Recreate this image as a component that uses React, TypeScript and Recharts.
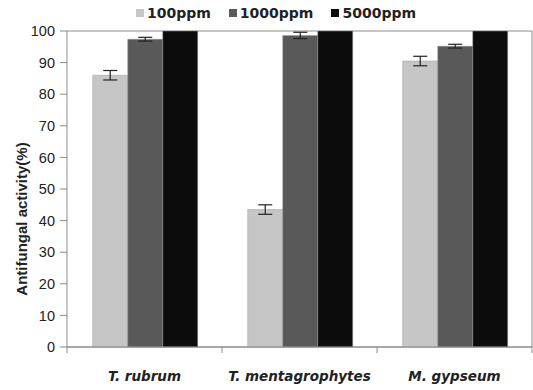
import React from 'react';
import { BarChart, Bar, XAxis, YAxis, CartesianGrid, Legend, ErrorBar, Label } from 'recharts';

const species = ['T. rubrum', 'T. mentagrophytes', 'M. gypseum'];
const ppm100 = [86, 43.5, 90.5];
const ppm1000 = [97.4, 98.6, 95.2];
const ppm5000 = [100, 100, 100];
const err100 = [1.5, 1.5, 1.5];
const err1000 = [0.6, 1.0, 0.6];
const yTicks = [0, 10, 20, 30, 40, 50, 60, 70, 80, 90, 100];

const SERIES = [
  { key: 'p100', name: '100ppm', color: '#c6c6c6', err: 'e100' },
  { key: 'p1000', name: '1000ppm', color: '#595959', err: 'e1000' },
  { key: 'p5000', name: '5000ppm', color: '#0c0c0c', err: null },
];

const data = species.map((name, i) => ({
  name,
  p100: ppm100[i],
  p1000: ppm1000[i],
  p5000: ppm5000[i],
  e100: err100[i],
  e1000: err1000[i],
}));

const GRID = '#8c8c8c';

const LegendBox = () => (
  <div style={{ display: 'flex', justifyContent: 'center', alignItems: 'center', paddingLeft: 37, fontFamily: 'DejaVu Sans', fontWeight: 'bold', fontSize: 14, color: '#222' }}>
    {SERIES.map((s) => (
      <div key={s.key} style={{ display: 'flex', alignItems: 'center', marginRight: 18 }}>
        <span style={{ width: 8, height: 8, background: s.color, marginRight: 3, display: 'inline-block' }} />
        <span>{s.name}</span>
      </div>
    ))}
  </div>
);

const SpeciesTick = (props: any) => {
  const { x, y, payload, index, width, visibleTicksCount } = props;
  const band = width / visibleTicksCount;
  const last = index === visibleTicksCount - 1;
  return (
    <g>
      <line x1={x - band / 2} x2={x - band / 2} y1={y} y2={y + 6} stroke={GRID} />
      {last && <line x1={x + band / 2} x2={x + band / 2} y1={y} y2={y + 6} stroke={GRID} />}
      <text x={x} y={y + 34} textAnchor="middle" fontFamily="DejaVu Sans" fontWeight="bold" fontStyle="italic" fontSize={13.5} fill="#222">
        {payload.value}
      </text>
    </g>
  );
};

const YLabel = (props: any) => {
  const { viewBox } = props;
  const cy = viewBox.y + viewBox.height / 2 + 30;
  return (
    <text x={21} y={cy} transform={`rotate(-90, 21, ${cy})`} textAnchor="middle" dominantBaseline="central" fontFamily="Liberation Sans" fontWeight="bold" fontSize={15} fill="#222">
      Antifungal activity(%)
    </text>
  );
};

export default function App() {
  return (
    <div style={{ position: 'absolute', left: 0, top: 0, background: '#fff' }}>
      <BarChart width={533} height={390} data={data} margin={{ top: 5, right: 0, left: 0, bottom: 0 }} barCategoryGap="16.6%" barGap={0}>
        <CartesianGrid vertical={false} stroke={GRID} />
        <Legend verticalAlign="top" height={26} content={<LegendBox />} />
        <XAxis dataKey="name" height={43} tickSize={0} tickMargin={0} tickLine={false} axisLine={{ stroke: GRID }} tick={<SpeciesTick />} interval={0} />
        <YAxis
          yAxisId="left"
          width={67}
          domain={[0, 100]}
          ticks={yTicks}
          interval={0}
          tickSize={7}
          tickMargin={5}
          tickLine={{ stroke: GRID }}
          axisLine={{ stroke: GRID }}
          tick={{ fontFamily: 'Liberation Sans', fontSize: 14.5, fill: '#222' }}
        >
          <Label content={<YLabel />} />
        </YAxis>
        <YAxis yAxisId="right" orientation="right" width={1} domain={[0, 100]} tick={false} tickLine={false} axisLine={{ stroke: GRID }} />
        {SERIES.map((s) => (
          <Bar key={s.key} yAxisId="left" dataKey={s.key} name={s.name} fill={s.color} stroke="#9a9a9a" strokeWidth={0.5} isAnimationActive={false}>
            {s.err && <ErrorBar dataKey={s.err} width={7} stroke="#222" strokeWidth={1.2} />}
          </Bar>
        ))}
      </BarChart>
    </div>
  );
}
